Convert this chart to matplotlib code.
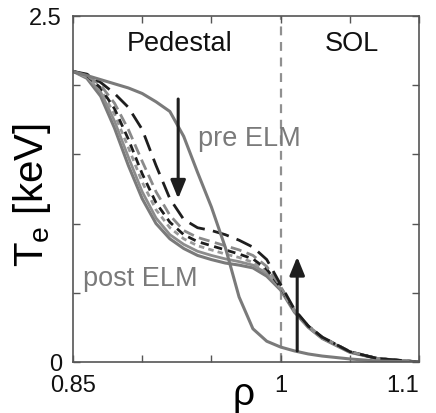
import matplotlib
matplotlib.use('Agg')
import matplotlib.pyplot as plt

plt.rcParams['font.family'] = ['Liberation Sans', 'DejaVu Sans']

rho = [0.85, 0.86, 0.87, 0.88, 0.89, 0.90, 0.91, 0.92, 0.93, 0.94, 0.95,
       0.96, 0.97, 0.98, 0.99, 1.00, 1.01, 1.02, 1.03, 1.05, 1.07, 1.10]

# profiles (Te in keV)
te_pre = [2.10, 2.07, 2.04, 2.01, 1.98, 1.94, 1.88, 1.81, 1.63, 1.37, 1.12,
          0.83, 0.47, 0.24, 0.15, 0.108, 0.08, 0.058, 0.043, 0.022, 0.007, 0.0]
te_post = [2.10, 2.05, 1.92, 1.69, 1.42, 1.18, 1.00, 0.89, 0.82, 0.77, 0.74,
           0.715, 0.70, 0.68, 0.62, 0.52, 0.36, 0.25, 0.17, 0.07, 0.025, 0.0]
te_solid2 = [2.10, 2.06, 1.95, 1.74, 1.48, 1.23, 1.04, 0.92, 0.85, 0.80, 0.77,
             0.745, 0.725, 0.70, 0.64, 0.53, 0.37, 0.255, 0.175, 0.072, 0.025, 0.0]
te_d1 = [2.10, 2.06, 1.97, 1.79, 1.55, 1.30, 1.10, 0.97, 0.89, 0.84, 0.81,
         0.78, 0.755, 0.72, 0.65, 0.535, 0.37, 0.255, 0.175, 0.072, 0.025, 0.0]
te_d2 = [2.10, 2.07, 1.98, 1.83, 1.61, 1.36, 1.15, 1.01, 0.92, 0.87, 0.84,
         0.81, 0.78, 0.745, 0.67, 0.54, 0.37, 0.26, 0.18, 0.075, 0.025, 0.0]
te_d3 = [2.10, 2.07, 2.00, 1.87, 1.68, 1.45, 1.23, 1.06, 0.95, 0.90, 0.87,
         0.84, 0.81, 0.77, 0.69, 0.545, 0.375, 0.26, 0.18, 0.075, 0.025, 0.0]
te_d4 = [2.10, 2.08, 2.02, 1.94, 1.84, 1.68, 1.42, 1.18, 1.03, 0.97, 0.95,
         0.92, 0.88, 0.83, 0.74, 0.56, 0.38, 0.26, 0.18, 0.075, 0.025, 0.0]

sep_rho = 1.0
arrow_down = (0.926, 1.90, 1.18)   # x, y start, y end
arrow_up = (1.012, 0.08, 0.76)

gray = '#7a7a7a'
dark = '#1e1e1e'

fig = plt.figure(figsize=(4.36, 4.14), dpi=100)
ax = fig.add_axes([0.1674, 0.1232, 0.7936, 0.8358])

ax.axvline(sep_rho, color='#909090', lw=1.6, ls=(0, (4, 3)), zorder=1)

ax.plot(rho, te_post, color=gray, lw=2.2)
ax.plot(rho, te_solid2, color='#8c8c8c', lw=2.0)
ax.plot(rho, te_d1, color='#999999', lw=2.0, ls=(0, (2, 1.5)))
ax.plot(rho, te_d2, color=dark, lw=2.0, ls=(0, (3, 2)))
ax.plot(rho, te_d3, color='#8a8a8a', lw=2.0, ls=(0, (4, 2)))
ax.plot(rho, te_d4, color=dark, lw=2.0, ls=(0, (6, 3)))
ax.plot(rho, te_pre, color=gray, lw=2.2)

for xa, y0, y1 in (arrow_down, arrow_up):
    ax.annotate('', xy=(xa, y1), xytext=(xa, y0),
                arrowprops=dict(arrowstyle='-|>,head_length=1.1,head_width=0.45',
                                color=dark, lw=2.2, shrinkA=0, shrinkB=0))

ax.text(0.9273, 2.305, 'Pedestal', fontsize=19.5, ha='center', va='center', color='#111111')
ax.text(1.0516, 2.305, 'SOL', fontsize=19.5, ha='center', va='center', color='#111111')
ax.text(0.9403, 1.62, 'pre ELM', fontsize=19.5, ha='left', va='center', color=gray)
ax.text(0.8572, 0.61, 'post ELM', fontsize=19.5, ha='left', va='center', color=gray)

ax.set_xlim(0.85, 1.1)
ax.set_ylim(0, 2.5)
ax.set_xticks([0.85, 0.9, 0.95, 1.0, 1.05, 1.1])
ax.set_xticklabels(['0.85', '', '', '1', '', '1.1'])
ax.set_yticks([0, 0.5, 1.0, 1.5, 2.0, 2.5])
ax.set_yticklabels(['0', '', '', '', '', '2.5'])
ax.tick_params(direction='in', length=5, width=1, labelsize=17,
               top=True, right=True, colors='#555555', labelcolor='#111111')
ax.tick_params(axis='x', pad=9)
ax.tick_params(axis='y', pad=8)
ax.get_xticklabels()[-1].set_ha('right')
for s in ax.spines.values():
    s.set_color('#555555')
    s.set_linewidth(1.2)

ax.set_xlabel('ρ', fontsize=28)
ax.xaxis.set_label_coords(0.494, -0.04)
ax.set_ylabel('T$_\\mathregular{e}$ [keV]', fontsize=29)
ax.yaxis.set_label_coords(-0.058, 0.486)

fig.savefig('out.png', dpi=100)
